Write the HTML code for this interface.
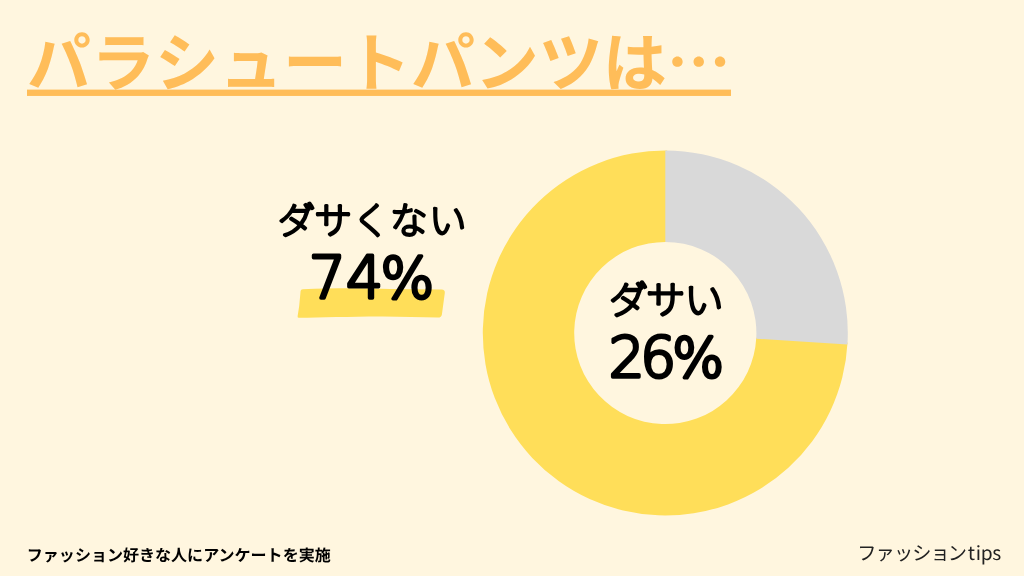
<!DOCTYPE html>
<html lang="ja">
<head>
<meta charset="utf-8">
<title>パラシュートパンツは…</title>
<style>
html,body{margin:0;padding:0;}
body{width:1024px;height:576px;overflow:hidden;background:#FFF6DF;position:relative;
 font-family:"Liberation Sans","Noto Sans CJK JP",sans-serif;color:#000;}
svg{position:absolute;left:0;top:0;display:block;}
text{text-rendering:geometricPrecision;}
.cjk{font-family:"Noto Sans CJK JP","Liberation Sans",sans-serif;}
.title{font-family:"Liberation Sans","Noto Sans CJK JP",sans-serif;font-weight:700;font-size:64px;fill:#FFBD59;}
.lab,.num{fill:#000;stroke:#000;stroke-linejoin:round;stroke-linecap:round;}
.foot1{font-family:"Liberation Sans","Noto Sans CJK JP",sans-serif;font-weight:700;font-size:16.05px;fill:#000;}
.foot2{font-family:"Liberation Sans","Noto Sans CJK JP",sans-serif;font-weight:400;font-size:19.2px;fill:#222;}
</style>
</head>
<body>
<svg width="1024" height="576" viewBox="0 0 1024 576">
  <path d="M847.55 342.55 A182.5 182.5 0 1 1 667.21 150.51 L666.25 241.90 A91.1 91.1 0 1 0 756.28 337.77 Z" fill="#FFDE59"/>
  <path d="M665.30 150.50 A182.5 182.5 0 0 1 847.44 344.46 L756.22 338.72 A91.1 91.1 0 0 0 665.30 241.90 Z" fill="#D9D9D9"/>
  <path d="M302.8 289.3 C330 288.2 360 288 390 289 L441.5 289.5 Q445.2 289.6 444.8 293 L441.9 314.5 Q441.5 317.6 438 317.6 C420 317.4 400 316.4 380 316.5 C350 316.6 320 317.6 299 317.8 Q297.3 317.8 297.6 316.2 L299.2 306 L300.6 291 Q300.8 289.4 302.8 289.3 Z" fill="#FFDE59"/>
  <rect x="27" y="89.6" width="704" height="6.35" fill="#FFBD59"/>
  <text class="title" x="27" y="86" dx="0 0 1.3 0 0 0 0 -3.4 0 0 0">パラシュートパンツは<tspan class="cjk">…</tspan></text>
  <text class="lab" style='font-family:"Liberation Sans","Noto Sans CJK JP",sans-serif;font-weight:100;font-size:37.5px;stroke-width:3.1px'><tspan x="277.68" y="234">ダ</tspan><tspan x="314.6" y="234">サ</tspan><tspan x="352.15" y="234">く</tspan><tspan x="390.12" y="234">な</tspan><tspan x="429.08" y="234">い</tspan></text>
  <text class="num" style='font-family:"DejaVu Sans","Liberation Sans","Noto Sans CJK JP",sans-serif;font-weight:200;font-size:58.5px;stroke-width:3.5px'><tspan x="308.65" y="298">7</tspan><tspan x="346.02" y="298">4</tspan><tspan x="380.48" y="298" font-size="56.5">%</tspan></text>
  <text class="lab" style='font-family:"Liberation Sans","Noto Sans CJK JP",sans-serif;font-weight:100;font-size:39px;stroke-width:3.2px'><tspan x="608.88" y="314">ダ</tspan><tspan x="646.25" y="314">サ</tspan><tspan x="684.58" y="314">い</tspan></text>
  <text class="num" style='font-family:"DejaVu Sans","Liberation Sans","Noto Sans CJK JP",sans-serif;font-weight:200;font-size:56.4px;stroke-width:3.5px'><tspan x="608.75" y="377">2</tspan><tspan x="640.25" y="377">6</tspan><tspan x="672.32" y="377" font-size="54.5">%</tspan></text>
  <text class="foot1" x="26.8" y="561">ファッション好きな人にアンケートを実施</text>
  <text class="foot2" x="857.3" y="560" dx="0 -0.9 -0.9 -0.9 -0.9 -2.0 1.0 0.8 -0.3 -0.5">ファッション<tspan class="cjk">tips</tspan></text>
</svg>
</body>
</html>
